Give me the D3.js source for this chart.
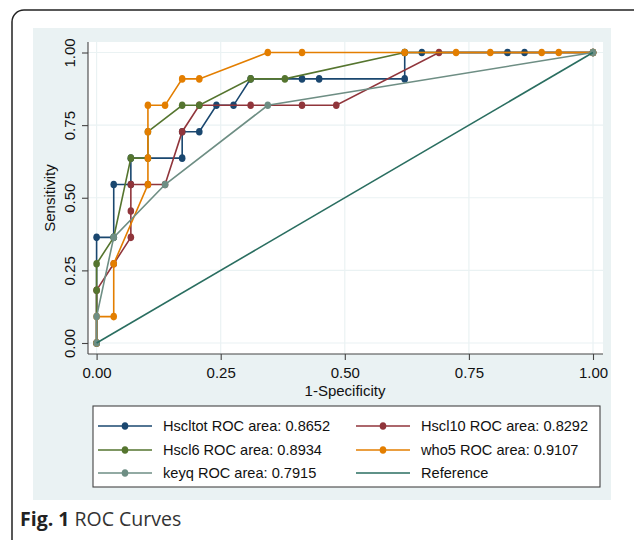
<!DOCTYPE html>
<html>
<head>
<meta charset="utf-8">
<script src="https://cdn.jsdelivr.net/npm/d3@7"></script>
<style>
  body { margin: 0; background: #fff; }
  svg { display: block; }
</style>
</head>
<body>
<div id="chart"></div>
<script>
// ROC points: [1-specificity, sensitivity]
var hscltot = [[0,0],[0,.3636],[.0345,.3636],[.0345,.5455],[.069,.5455],[.069,.6364],[.1724,.6364],[.1724,.7273],[.2069,.7273],[.2414,.8182],[.2759,.8182],[.3103,.9091],[.4138,.9091],[.4483,.9091],[.6207,.9091],[.6207,1],[.6552,1],[.8276,1],[.8621,1],[1,1]];
var hscl10 = [[0,0],[0,.1818],[.0345,.2727],[.069,.3636],[.069,.4545],[.069,.5455],[.1034,.5455],[.1379,.5455],[.1724,.7273],[.2069,.8182],[.3103,.8182],[.4138,.8182],[.4828,.8182],[.6897,1],[1,1]];
var hscl6 = [[0,0],[0,.1818],[0,.2727],[.0345,.3636],[.069,.6364],[.1034,.6364],[.1034,.7273],[.1724,.8182],[.2069,.8182],[.3103,.9091],[.3793,.9091],[.6207,1],[1,1]];
var who5 = [[0,0],[0,.0909],[.0345,.0909],[.0345,.2727],[.1034,.5455],[.1034,.6364],[.1034,.7273],[.1034,.8182],[.1379,.8182],[.1724,.9091],[.2069,.9091],[.3448,1],[.4138,1],[.6207,1],[.7241,1],[.7931,1],[.8966,1],[.931,1],[1,1]];
var keyq = [[0,0],[0,.0909],[.0345,.3636],[.1379,.5455],[.3448,.8182],[1,1]];
var reference = [[0,0],[1,1]];

var seriesNames = ["Hscltot ROC area: 0.8652", "Hscl10 ROC area: 0.8292", "Hscl6 ROC area: 0.8934",
                   "who5 ROC area: 0.9107", "keyq ROC area: 0.7915", "Reference"];
var seriesData = [hscltot, hscl10, hscl6, who5, keyq, reference];
var seriesColors = ["#1a476f", "#90353b", "#55752f", "#e37e00", "#6e8e84", "#2a6e60"];
var hasMarkers = [true, true, true, true, true, false];

var xTicks = [0, .25, .5, .75, 1];
var yTicks = [0, .25, .5, .75, 1];

var W = 634, H = 540;
var font = "'Liberation Sans', Arial, sans-serif";
var svg = d3.select("#chart").append("svg")
  .attr("width", W).attr("height", H);

// outer figure frame
svg.append("rect")
  .attr("x", 12).attr("y", 10).attr("width", 660).attr("height", 600)
  .attr("rx", 12).attr("ry", 12)
  .attr("fill", "none").attr("stroke", "#222").attr("stroke-width", 1.5);

// graph region
svg.append("rect")
  .attr("x", 33).attr("y", 28).attr("width", 578).attr("height", 472)
  .attr("fill", "#eaf2f3");

// plot region
var plot = { left: 88, top: 42, right: 603, bottom: 354 };
svg.append("rect")
  .attr("x", plot.left).attr("y", plot.top)
  .attr("width", plot.right - plot.left).attr("height", plot.bottom - plot.top)
  .attr("fill", "#fff");

var x = d3.scaleLinear().domain([0, 1]).range([96.6, 593]);
var y = d3.scaleLinear().domain([0, 1]).range([343, 52.5]);

// grid
svg.append("g").selectAll("line").data(xTicks).enter().append("line")
  .attr("x1", d => x(d)).attr("x2", d => x(d))
  .attr("y1", plot.top).attr("y2", plot.bottom)
  .attr("stroke", "#eaf2f3").attr("stroke-width", 1.2);
svg.append("g").selectAll("line").data(yTicks).enter().append("line")
  .attr("x1", plot.left).attr("x2", plot.right)
  .attr("y1", d => y(d)).attr("y2", d => y(d))
  .attr("stroke", "#eaf2f3").attr("stroke-width", 1.2);

// axes
var xAxis = d3.axisBottom(x).tickValues(xTicks).tickFormat(d3.format(".2f"))
  .tickSizeInner(6).tickSizeOuter(0).tickPadding(7);
var gx = svg.append("g").attr("transform", "translate(0," + plot.bottom + ")").call(xAxis);
gx.select(".domain").attr("d", "M" + plot.left + ",0H" + plot.right);

var yAxis = d3.axisLeft(y).tickValues(yTicks).tickFormat(d3.format(".2f"))
  .tickSizeInner(6).tickSizeOuter(0);
var gy = svg.append("g").attr("transform", "translate(" + plot.left + ",0)").call(yAxis);
gy.select(".domain").attr("d", "M0," + plot.top + "V" + plot.bottom);
gy.selectAll(".tick text")
  .attr("text-anchor", "middle").attr("x", 0).attr("y", -13).attr("dy", "0")
  .attr("transform", "rotate(-90)");

[gx, gy].forEach(function(g) {
  g.selectAll(".domain").attr("stroke", "#444").attr("stroke-width", 1.1);
  g.selectAll(".tick line").attr("stroke", "#444").attr("stroke-width", 1.1);
  g.selectAll(".tick text").attr("fill", "#111")
    .style("font-family", font).style("font-size", "15px");
});

// axis titles
svg.append("text").attr("x", 345).attr("y", 396).attr("text-anchor", "middle")
  .style("font-family", font).style("font-size", "15px")
  .attr("fill", "#111").text("1-Specificity");
svg.append("text").attr("transform", "translate(55,198) rotate(-90)").attr("text-anchor", "middle")
  .style("font-family", font).style("font-size", "15px")
  .attr("fill", "#111").text("Sensitivity");

// curves
var line = d3.line().x(d => x(d[0])).y(d => y(d[1]));
seriesData.forEach(function(data, i) {
  var g = svg.append("g");
  g.append("path").attr("d", line(data))
    .attr("fill", "none").attr("stroke", seriesColors[i]).attr("stroke-width", 1.6);
  if (hasMarkers[i]) {
    g.selectAll("ellipse").data(data).enter().append("ellipse")
      .attr("cx", d => x(d[0])).attr("cy", d => y(d[1]))
      .attr("rx", 3.3).attr("ry", 3.8)
      .attr("fill", seriesColors[i]);
  }
});

// legend
var legend = svg.append("g");
legend.append("rect").attr("x", 93).attr("y", 406).attr("width", 507).attr("height", 81)
  .attr("fill", "#fff").attr("stroke", "#444").attr("stroke-width", 1.1);
var colX = [98, 356], rowY = [426, 450, 473];
seriesNames.forEach(function(name, i) {
  var cx = colX[i % 2], cy = rowY[Math.floor(i / 2)];
  legend.append("line").attr("x1", cx).attr("x2", cx + 54).attr("y1", cy).attr("y2", cy)
    .attr("stroke", seriesColors[i]).attr("stroke-width", 1.6);
  if (hasMarkers[i]) {
    legend.append("ellipse").attr("cx", cx + 27).attr("cy", cy).attr("rx", 3.3).attr("ry", 3.8)
      .attr("fill", seriesColors[i]);
  }
  legend.append("text").attr("x", cx + 65).attr("y", cy + 5)
    .style("font-family", font).style("font-size", "14.6px")
    .attr("fill", "#111").text(name);
});

// caption
var cap = svg.append("text").attr("x", 20).attr("y", 526)
  .style("font-family", "'Open Sans', 'Noto Sans', sans-serif").style("font-size", "19.5px")
  .attr("fill", "#222");
cap.append("tspan").style("font-weight", "bold").text("Fig. 1");
cap.append("tspan").attr("fill", "#333").text(" ROC Curves");
</script>
</body>
</html>
